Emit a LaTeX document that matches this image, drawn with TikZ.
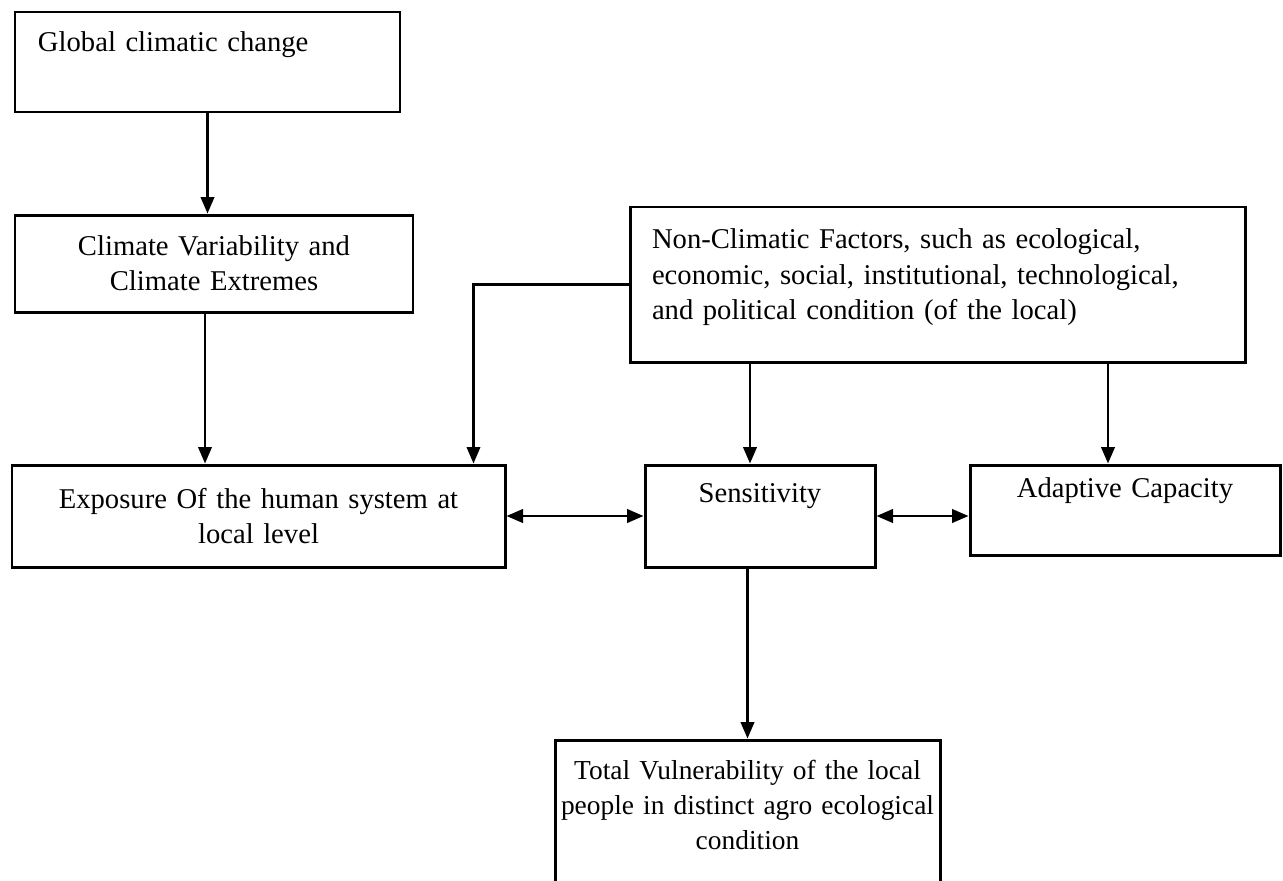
\documentclass[tikz,border=0pt]{standalone}
\usepackage{fontspec}
\setmainfont{Liberation Serif}
\usepackage{tikz}
\usetikzlibrary{arrows.meta}
\pgfdeclarelayer{edgelayer}
\pgfdeclarelayer{nodelayer}
\pgfsetlayers{edgelayer,nodelayer,main}
\tikzset{
	box/.style={draw, line width=1.7pt, rectangle, inner ysep=0pt,
		font=\fontsize{16.3}{20}\selectfont},
	flow/.style={line width=1.4pt, -{Triangle[length=0.33cm,width=0.27cm]}},
	twoway/.style={line width=1.4pt, {Triangle[length=0.33cm,width=0.27cm]}-{Triangle[length=0.33cm,width=0.27cm]}},
	thinflow/.style={line width=1.2pt, -{Triangle[length=0.33cm,width=0.27cm]}}
}
\begin{document}
\begin{tikzpicture}
	\useasboundingbox (0,0) rectangle (25.66,-17.6);
	\begin{pgfonlayer}{nodelayer}
		\node [box, minimum width=7.7cm, minimum height=2cm, text width=6.78cm, inner xsep=0.46cm, align=left] (0) at (4.15,-1.24) {Global climatic change\\[-0.1cm] \strut};
		\node [box, minimum width=7.96cm, minimum height=1.94cm, text width=7.4cm, align=center] (1) at (4.28,-5.27) {Climate Variability and\\ Climate Extremes};
		\node [box, minimum width=12.3cm, minimum height=3.1cm, text width=11.42cm, inner xsep=0.44cm, align=left] (2) at (18.75,-5.69) {Non-Climatic Factors, such as ecological,\\ economic, social, institutional, technological,\\ and political condition (of the local)\\[-0.5cm] \strut};
		\node [box, minimum width=9.86cm, minimum height=2.04cm, text width=9.4cm, align=center] (3) at (5.17,-10.32) {Exposure Of the human system at\\ local level};
		\node [box, minimum width=4.6cm, minimum height=2.04cm, text width=4.2cm, align=center] (4) at (15.2,-10.32) {Sensitivity\\ \strut};
		\node [box, minimum width=6.2cm, minimum height=1.8cm, text width=5.8cm, align=center] (5) at (22.5,-10.2) {Adaptive Capacity\\ \strut};
		\node [box, font=\fontsize{15.6}{20}\selectfont, minimum width=7.7cm, minimum height=3cm, text width=7.6cm, inner xsep=0.05cm, align=center] (6) at (14.95,-16.3) {Total Vulnerability of the local\\ people in distinct agro ecological\\ condition\\[-0.5cm] \strut};
	\end{pgfonlayer}
	\begin{pgfonlayer}{edgelayer}
		\draw [flow] (0.south) to (0.south |- 1.north);
		\draw [thinflow] ([xshift=-0.18cm]1.south) to ([xshift=-0.18cm]1.south |- 3.north);
		\draw [thinflow] (2.west) -| ([xshift=-0.66cm]3.north east);
		\draw [flow] ([xshift=-0.2cm]4.north |- 2.south) to ([xshift=-0.2cm]4.north);
		\draw [flow] ([xshift=-0.34cm]5.north |- 2.south) to ([xshift=-0.34cm]5.north);
		\draw [twoway] (3.east) to (4.west);
		\draw [twoway] (4.east) to (4.east -| 5.west);
		\draw [flow] (6.north |- 4.south) to (6.north);
	\end{pgfonlayer}
\end{tikzpicture}
\end{document}
